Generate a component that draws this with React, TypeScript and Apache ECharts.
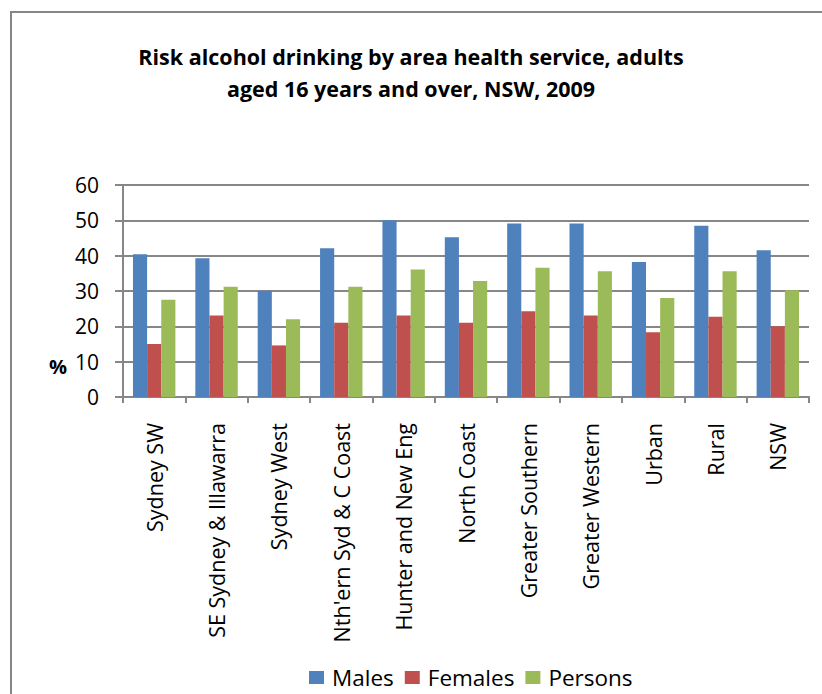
import React, { useEffect, useRef } from "react";
import * as echarts from "echarts";

const categories = [
  "Sydney SW",
  "SE Sydney & Illawarra",
  "Sydney West",
  "Nth'ern Syd & C Coast",
  "Hunter and New Eng",
  "North Coast",
  "Greater Southern",
  "Greater Western",
  "Urban",
  "Rural",
  "NSW",
];
const males = [40.4, 39.3, 30.1, 42.1, 50.0, 45.2, 49.1, 49.1, 38.2, 48.5, 41.5];
const females = [15.0, 23.1, 14.6, 21.0, 23.1, 21.0, 24.3, 23.1, 18.3, 22.7, 20.0];
const persons = [27.5, 31.2, 22.0, 31.2, 36.1, 32.8, 36.6, 35.6, 28.0, 35.6, 30.2];

const titleText = "Risk alcohol drinking by area health service, adults\naged 16 years and over, NSW, 2009";
const FONT = "'Open Sans', 'Liberation Sans', sans-serif";
const GRID = "#878787";

export default function App() {
  const ref = useRef<HTMLDivElement>(null);
  useEffect(() => {
    if (!ref.current) return;
    const chart = echarts.init(ref.current, null, { renderer: "svg" });
    chart.setOption({
      animation: false,
      backgroundColor: "#ffffff",
      textStyle: { fontFamily: FONT },
      graphic: [
        {
          type: "rect",
          shape: { x: 11, y: 12, width: 900, height: 800 },
          style: { fill: "none", stroke: "#868686", lineWidth: 2 },
          silent: true,
        },
        {
          type: "text",
          x: 411,
          y: 40,
          style: {
            text: titleText,
            fontFamily: FONT,
            fontWeight: "bold",
            fontSize: 21.5,
            lineHeight: 32,
            fill: "#000",
            align: "center",
            verticalAlign: "top",
          },
        },
        {
          type: "text",
          x: 58,
          y: 366,
          style: {
            text: "%",
            fontFamily: FONT,
            fontWeight: "bold",
            fontSize: 20,
            fill: "#000",
            align: "center",
            verticalAlign: "middle",
          },
        },
      ],
      legend: {
        left: 309,
        top: 666,
        padding: 0,
        itemWidth: 15,
        itemHeight: 13,
        itemGap: 11,
        icon: "rect",
        textStyle: { fontFamily: FONT, fontSize: 22.5, color: "#000", padding: [0, 0, 0, 3] },
        data: ["Males", "Females", "Persons"],
      },
      grid: { left: 123, right: 13, top: 185, bottom: 297, containLabel: false },
      xAxis: {
        type: "category",
        data: categories,
        axisLine: { show: true, lineStyle: { color: GRID, width: 2 } },
        axisTick: { show: true, length: 6, lineStyle: { color: GRID, width: 2 } },
        axisLabel: {
          rotate: 90,
          margin: 26,
          interval: 0,
          fontFamily: FONT,
          fontSize: 21.5,
          color: "#000",
        },
      },
      yAxis: {
        type: "value",
        min: 0,
        max: 60,
        interval: 10,
        axisLine: { show: true, lineStyle: { color: GRID, width: 2 } },
        axisTick: { show: true, inside: false, length: 8, lineStyle: { color: GRID, width: 2 } },
        splitLine: { show: true, lineStyle: { color: GRID, width: 2 } },
        axisLabel: { margin: 24, fontFamily: FONT, fontSize: 21, color: "#000" },
      },
      series: [
        { name: "Males", type: "bar", data: males, itemStyle: { color: "#4F81BD" }, barGap: "0%", barCategoryGap: "32%" },
        { name: "Females", type: "bar", data: females, itemStyle: { color: "#C0504D" }, barGap: "0%", barCategoryGap: "32%" },
        { name: "Persons", type: "bar", data: persons, itemStyle: { color: "#9BBB59" }, barGap: "0%", barCategoryGap: "32%" },
      ],
    });
    return () => chart.dispose();
  }, []);
  return (
    <div
      ref={ref}
      style={{ position: "fixed", left: 0, top: 0, width: 822, height: 694, background: "#fff" }}
    />
  );
}
